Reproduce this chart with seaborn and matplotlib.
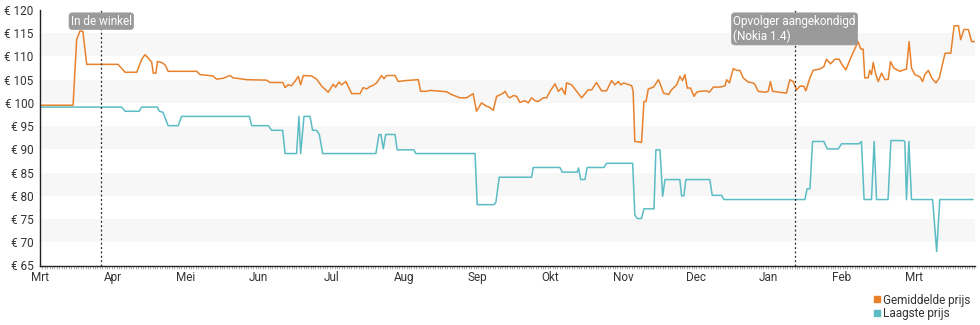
import numpy as np
import pandas as pd
import matplotlib
matplotlib.use("Agg")
import matplotlib.pyplot as plt
from matplotlib.lines import Line2D
import seaborn as sns

# Days counted from 1 March 2020
avg_days = [0, 13.8, 15.3, 16.7, 17.9, 19.5, 32.6, 33.8, 35.5, 40.4, 40.9, 42.4, 43.8, 45.1,
            46.6, 47.3, 48.4, 49.0, 50.8, 52.2, 53.5, 65.4, 66.8, 72.2, 73.7, 76.4, 79.3,
            80.6, 86.3, 94.6, 96.0, 101.4, 102.3, 103.6, 105.0, 106.4, 107.8, 108.8, 109.9,
            113.4, 115.5, 117.6, 120.3, 122.4, 123.4, 124.8, 125.9, 127.7, 130.1, 133.6,
            134.9, 136.4, 137.7, 139.1, 140.5, 142.6, 143.6, 144.7, 148.2, 149.5, 152.3,
            157.9, 158.9, 161.4, 162.8, 169.7, 171.8, 175.3, 178.1, 180.8, 182.2, 184.3,
            186.4, 187.8, 189.2, 190.6, 193.4, 194.1, 195.4, 196.2, 197.6, 199.0, 200.3,
            202.4, 203.8, 205.2, 206.6, 208.0, 210.1, 211.5, 212.9, 215.0, 216.4, 217.8,
            219.2, 219.8, 221.9, 226.1, 228.8, 230.3, 232.3, 234.4, 236.5, 238.6, 240.0,
            241.4, 242.4, 243.7, 247.0, 247.6, 248.3, 251.1, 252.1, 253.0, 253.9, 256.1,
            258.2, 260.3, 262.4, 263.6, 265.8, 267.1, 268.2, 269.2, 270.2, 271.6, 273.0,
            274.1, 275.5, 278.3, 279.4, 281.1, 283.9, 286.0, 286.6, 287.8, 289.4, 290.8,
            292.2, 293.5, 295.6, 297.7, 298.4, 299.8, 302.6, 304.0, 304.9, 305.8, 311.6,
            313.0, 314.4, 315.8, 317.2, 318.8, 319.7, 321.4, 322.7, 325.5, 327.2, 328.3,
            330.0, 331.8, 333.6, 334.6, 336.4, 338.1, 340.1, 341.5, 342.6, 343.6, 344.3,
            345.7, 346.4, 347.1, 347.8, 348.9, 349.9, 351.3, 352.7, 354.1, 355.0, 356.4,
            358.9, 361.7, 362.8, 363.8, 365.2, 367.3, 368.4, 369.4, 370.8, 372.2, 374.0,
            375.4, 377.8, 380.2, 381.6, 383.4, 384.3, 385.7, 387.5, 388.9, 390.2]
avg_price = [99.5, 99.5, 113.6, 115.5, 115.4, 108.3, 108.3, 107.6, 106.6, 106.6, 107.3, 109.3,
             110.4, 109.7, 108.8, 106.4, 106.4, 108.9, 108.7, 108.2, 106.8, 106.8, 106.1,
             105.8, 105.1, 105.3, 105.9, 105.4, 105.0, 104.9, 104.4, 104.4, 103.3, 103.9,
             103.7, 104.6, 105.7, 103.9, 105.9, 105.8, 105.1, 103.6, 102.3, 104.0, 103.4,
             104.5, 103.9, 104.6, 102.0, 102.0, 103.3, 103.0, 103.5, 103.8, 104.3, 105.9,
             105.2, 105.9, 105.9, 104.6, 104.8, 105.0, 102.5, 102.5, 102.7, 102.4, 101.8,
             101.1, 101.1, 102.0, 98.2, 100.0, 99.3, 99.0, 98.4, 101.4, 102.1, 102.5, 101.4,
             101.1, 101.6, 101.4, 100.1, 100.5, 100.0, 101.1, 100.5, 100.3, 101.1, 101.1,
             102.5, 104.1, 102.5, 103.2, 101.8, 104.3, 103.9, 101.1, 102.8, 102.8, 104.4,
             102.6, 102.6, 104.8, 103.9, 104.6, 103.9, 104.3, 103.7, 102.5, 91.7, 91.5,
             100.3, 100.3, 103.0, 103.4, 105.0, 102.1, 101.8, 102.8, 103.9, 105.7, 104.8,
             106.1, 103.2, 103.2, 101.4, 102.3, 102.5, 102.6, 102.3, 103.4, 103.4, 103.7,
             105.0, 104.3, 107.4, 107.0, 107.0, 105.4, 104.5, 104.3, 104.0, 102.5, 102.3,
             102.5, 104.6, 102.5, 102.1, 105.0, 104.6, 102.8, 103.6, 103.6, 102.6, 105.4,
             107.0, 107.3, 107.8, 109.4, 108.4, 109.4, 109.4, 108.4, 107.1, 109.3, 111.6,
             113.2, 111.6, 111.6, 105.4, 105.4, 107.0, 106.1, 108.7, 106.1, 104.6, 106.4,
             105.0, 105.1, 108.9, 107.5, 106.8, 107.3, 113.2, 107.5, 106.1, 105.6, 104.6,
             106.1, 107.0, 105.4, 104.3, 105.4, 110.7, 110.7, 116.6, 116.6, 113.6, 115.8,
             115.8, 113.2, 113.2]

low_days = [0, 34.1, 35.5, 41.4, 42.4, 49.0, 49.8, 51.3, 53.5, 57.7, 59.1, 87.4, 88.4, 95.3,
            96.7, 101.3, 102.3, 107.1, 108.1, 108.8, 110.2, 112.7, 113.8, 115.5, 116.6,
            118.0, 140.2, 141.5, 142.3, 143.3, 144.3, 148.2, 149.1, 156.1, 156.9, 181.6,
            182.5, 189.5, 190.3, 191.7, 205.2, 205.9, 217.0, 218.0, 224.2, 224.8, 225.7,
            227.5, 228.4, 235.4, 236.5, 247.4, 248.3, 249.3, 251.1, 252.1, 256.3, 257.1,
            258.8, 259.9, 260.9, 267.1, 267.8, 268.8, 269.6, 279.6, 280.6, 284.5, 285.5,
            319.3, 320.2, 321.4, 322.5, 327.2, 328.6, 333.2, 334.6, 341.9, 342.9, 344.0,
            347.1, 348.2, 349.2, 354.0, 355.2, 360.3, 361.0, 361.7, 362.7, 363.8, 372.6,
            374.3, 375.6, 389.5]
low_price = [99.1, 99.1, 98.2, 98.2, 99.1, 99.1, 98.2, 98.0, 95.1, 95.1, 97.1, 97.1, 95.1,
             95.1, 94.1, 94.1, 89.1, 89.1, 97.1, 89.1, 97.1, 97.1, 94.1, 94.1, 93.2, 89.1,
             89.1, 93.2, 93.2, 90.1, 93.2, 93.2, 89.9, 89.9, 89.1, 89.1, 78.1, 78.1, 78.6,
             84.0, 84.0, 86.1, 86.1, 85.1, 85.1, 86.0, 83.5, 83.5, 86.1, 86.1, 87.0, 87.0,
             75.9, 75.1, 75.1, 77.2, 77.2, 89.9, 89.9, 79.9, 83.5, 83.5, 80.0, 80.0, 83.5,
             83.5, 80.1, 80.1, 79.2, 79.2, 81.5, 81.5, 91.7, 91.7, 90.1, 90.1, 91.2, 91.2,
             91.7, 79.2, 79.2, 91.7, 79.2, 79.2, 91.9, 91.9, 91.7, 79.2, 91.7, 79.2, 79.2,
             68.0, 79.2, 79.2]

series_names = ["Gemiddelde prijs", "Laagste prijs"]
series_colors = ["#e8812c", "#5bbcc4"]
month_labels = ["Mrt", "Apr", "Mei", "Jun", "Jul", "Aug", "Sep", "Okt", "Nov", "Dec",
                "Jan", "Feb", "Mrt"]
event_days = [25.6, 315.0]
event_labels = ["In de winkel", "Opvolger aangekondigd\n(Nokia 1.4)"]

sns.set_theme(style="white")
plt.rcParams["font.family"] = ["Roboto", "DejaVu Sans"]

df = pd.concat([
    pd.DataFrame({"dag": avg_days, "prijs": avg_price, "serie": series_names[0]}),
    pd.DataFrame({"dag": low_days, "prijs": low_price, "serie": series_names[1]}),
])

fig = plt.figure(figsize=(9.8, 3.25), dpi=100)
ax = fig.add_axes([40 / 980, 1 - 265.5 / 325, 935 / 980, 255.5 / 325])

# alternating horizontal bands
for lo in range(70, 120, 10):
    ax.axhspan(lo, lo + 5, color="#f7f7f7", zorder=0, lw=0)

sns.lineplot(data=df, x="dag", y="prijs", hue="serie", palette=series_colors,
             hue_order=series_names, linewidth=1.1, ax=ax, legend=False, sort=False,
             estimator=None)

ax.set_xlim(0, 390.3)
ax.set_ylim(65, 120)
ax.set_xlabel("")
ax.set_ylabel("")

ax.set_xticks(np.arange(13) * 365 / 12)
ax.set_xticklabels(month_labels)
ax.set_xticks(np.arange(0, 391, 1), minor=True)
yt = np.arange(65, 121, 5)
ax.set_yticks(yt)
ax.set_yticklabels([f"€ {v}" for v in yt])

ax.tick_params(axis="both", which="major", direction="inout", length=5, width=1,
               color="#222222", labelsize=8.5, labelcolor="#333333", pad=1.5)
ax.tick_params(axis="x", which="minor", direction="out", length=2, width=0.6,
               color="#aaaaaa", bottom=True)
ax.tick_params(axis="y", which="major", pad=2)

for side in ["top", "right"]:
    ax.spines[side].set_visible(False)
for side in ["left", "bottom"]:
    ax.spines[side].set_color("#222222")
    ax.spines[side].set_linewidth(1)

# event markers
for d, label in zip(event_days, event_labels):
    ax.axvline(d, ymin=0, ymax=1, color="#222222", lw=0.9, ls=(0, (1.5, 2)), zorder=3)
    ax.text(d, 119.0, label, ha="center", va="top", multialignment="left",
            fontsize=8.5, color="white", zorder=5,
            bbox=dict(boxstyle="round,pad=0.15,rounding_size=0.25", fc="#9a9a9a",
                      ec="#9a9a9a", lw=0.5))

handles = [Line2D([], [], marker="s", ls="none", color=c, markersize=5) for c in series_colors]
fig.legend(handles, series_names, loc="upper right", bbox_to_anchor=(0.996, 0.115),
           frameon=False, fontsize=8.5, handletextpad=0.1, handlelength=0.8,
           labelspacing=0.05, borderpad=0, labelcolor="#333333")

fig.savefig("out.png", dpi=100)
